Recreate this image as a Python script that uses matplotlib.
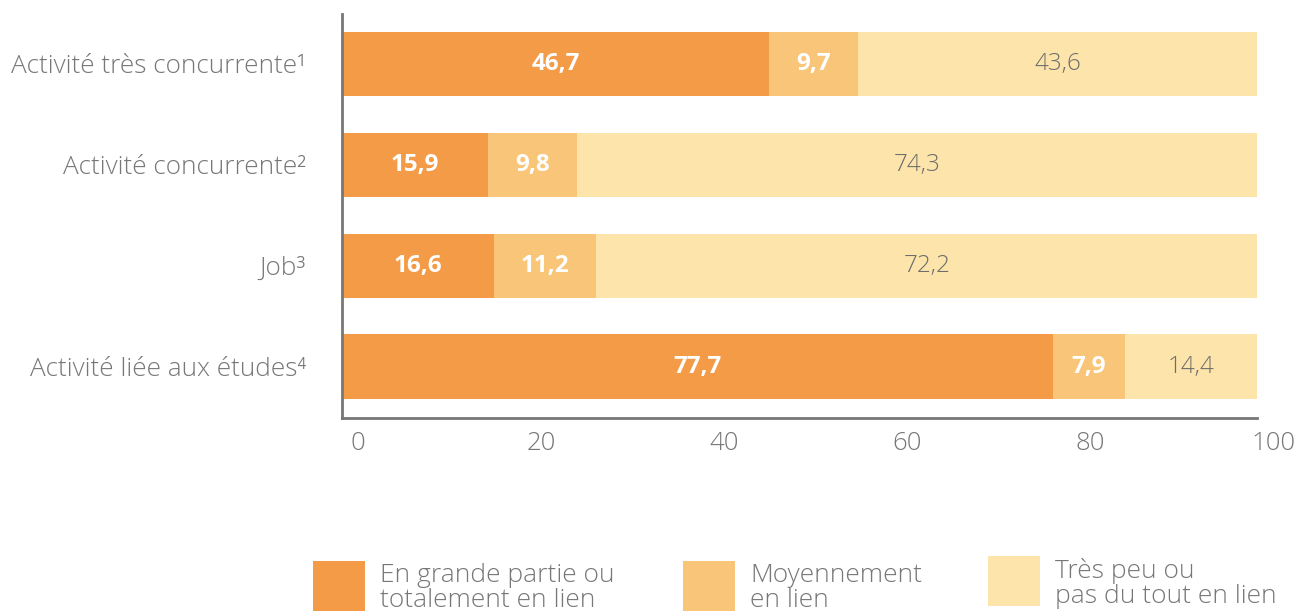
import matplotlib.pyplot as plt
from matplotlib.patches import Rectangle
from matplotlib.transforms import ScaledTranslation

plt.rcParams['font.family'] = ['Open Sans', 'DejaVu Sans']

# Données
categories = ["Activité très concurrente¹", "Activité concurrente²", "Job³", "Activité liée aux études⁴"]
en_lien = [46.7, 15.9, 16.6, 77.7]
moyen = [9.7, 9.8, 11.2, 7.9]
peu = [43.6, 74.3, 72.2, 14.4]
series = [en_lien, moyen, peu]
legend_labels = ["En grande partie ou\ntotalement en lien", "Moyennement\nen lien", "Très peu ou\npas du tout en lien"]
xticks = [0, 20, 40, 60, 80, 100]

colors = ["#F49B48", "#F9C579", "#FDE4AA"]
label_colors = ["white", "white", "#6d6d6d"]
label_weights = ["bold", "bold", "light"]
grey = "#777777"

fig = plt.figure(figsize=(12.99, 6.13), dpi=100)
ax = fig.add_axes([0.2633, 0.318, 0.7044, 0.659])

ypos = list(range(len(categories)))
left = [0] * len(categories)
for vals, c, tc, tw in zip(series, colors, label_colors, label_weights):
    ax.barh(ypos, vals, left=left, height=0.635, color=c, edgecolor="none")
    for y, v, l in zip(ypos, vals, left):
        ax.text(l + v / 2, y, f"{v:.1f}".replace(".", ","), ha="center", va="center",
                color=tc, fontsize=17.5, fontweight=tw)
    left = [a + b for a, b in zip(left, vals)]

ax.set_xlim(0, 100)
ax.set_ylim(3.51, -0.49)
ax.set_yticks(ypos)
ax.set_yticklabels(categories, fontsize=18.8, color=grey, fontweight="light")
ax.set_xticks(xticks)
ax.set_xticklabels([str(t) for t in xticks], fontsize=18.5, color=grey, fontweight="light")
ax.tick_params(axis="both", length=0)
ax.tick_params(axis="y", pad=26)
ax.tick_params(axis="x", pad=9)
for lab in ax.get_xticklabels():
    lab.set_transform(lab.get_transform() + ScaledTranslation(0.16, 0, fig.dpi_scale_trans))

for s in ["top", "right"]:
    ax.spines[s].set_visible(False)
for s in ["left", "bottom"]:
    ax.spines[s].set_color(grey)
    ax.spines[s].set_linewidth(2)

# Légende
leg_x = [313, 683, 988]
leg_y = [561, 561, 556]
for x, y, c, t in zip(leg_x, leg_y, colors, legend_labels):
    fig.add_artist(Rectangle((x / 1299, (613 - y - 50) / 613), 52 / 1299, 50 / 613,
                             transform=fig.transFigure, color=c, lw=0))
    fig.text((x + 67) / 1299, (613 - y - 2) / 613, t, ha="left", va="top",
             fontsize=19, color=grey, linespacing=1.0, fontweight="light")

plt.savefig("out.png", dpi=100)
